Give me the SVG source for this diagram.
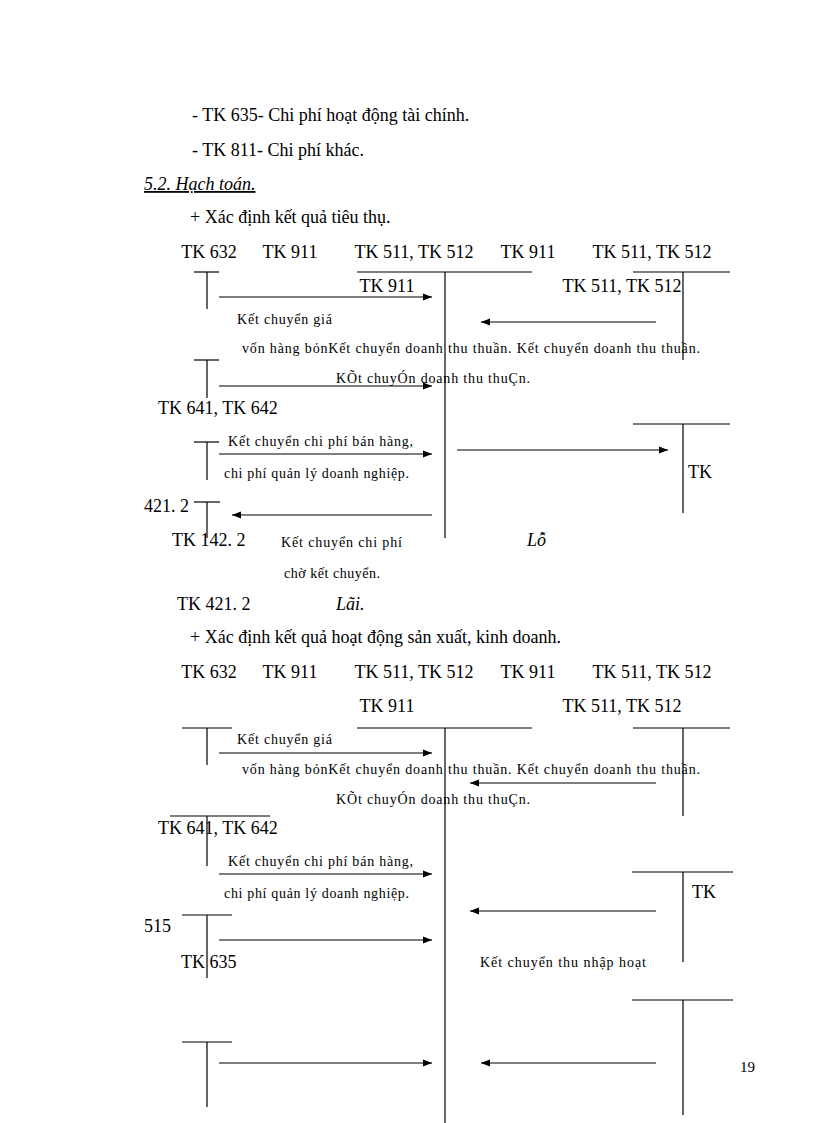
<svg xmlns="http://www.w3.org/2000/svg" width="816" height="1123" viewBox="0 0 816 1123">
<style>
text{font-family:"Liberation Serif","Times New Roman",serif;fill:#000}
.h{font-size:18px}
.s{font-size:14px}
.m{text-anchor:middle}
line{stroke:#000;stroke-width:1.2}
.a{marker-end:url(#ar)}
</style>
<defs><marker id="ar" viewBox="0 0 10 10" refX="10" refY="5" markerWidth="9" markerHeight="9" markerUnits="userSpaceOnUse" orient="auto"><path d="M0,1L10,5L0,9z" fill="#000"/></marker></defs>
<rect width="816" height="1123" fill="#fff"/>
<g id="intro">
<text class="h" x="192" y="121">- TK 635-  Chi phí hoạt động tài  chính.</text>
<text class="h" x="192" y="156">- TK 811-  Chi phí khác.</text>
<text class="h" x="144" y="190" font-style="italic" text-decoration="underline">5.2. Hạch toán.</text>
<text class="h" x="190" y="223">+ Xác định kết quả tiêu thụ.</text>
<text class="h" x="190" y="643">+ Xác định kết quả hoạt động sản xuất, kinh doanh.</text>
<text x="740" y="1072" font-size="15">19</text>
</g>
<g id="sec1-labels">
<text class="h m" x="209" y="258">TK 632</text>
<text class="h m" x="290" y="258">TK 911</text>
<text class="h m" x="414" y="258">TK 511, TK 512</text>
<text class="h m" x="528" y="258">TK 911</text>
<text class="h m" x="652" y="258">TK 511, TK 512</text>
<text class="h m" x="387" y="292">TK 911</text>
<text class="h m" x="622" y="292">TK 511, TK 512</text>
<text class="s" x="237" y="324" textLength="95">Kết chuyển  giá</text>
<text class="s" x="242" y="353" textLength="458">vốn hàng  bỏnKết chuyển  doanh  thu thuần.  Kết chuyển  doanh thu thuần.</text>
<text class="s" x="336" y="383" textLength="194">KÕt chuyÓn  doanh thu  thuÇn.</text>
<text class="h" x="158" y="414">TK 641, TK 642</text>
<text class="s" x="228" y="446" textLength="185">Kết chuyển  chi phí bán hàng,</text>
<text class="s" x="224" y="478" textLength="185">chi  phí  quản lý  doanh nghiệp.</text>
<text class="h" x="688" y="478">TK</text>
<text class="h" x="144" y="512">421. 2</text>
<text class="h" x="172" y="546">TK 142. 2</text>
<text class="s" x="281" y="547" textLength="121">Kết chuyển  chi  phí</text>
<text class="h" x="527" y="546" font-style="italic">Lỗ</text>
<text class="s" x="284" y="578" textLength="96">chờ kết chuyển.</text>
<text class="h" x="177" y="610">TK 421. 2</text>
<text class="h" x="336" y="610" font-style="italic">Lãi.</text>
</g>
<g id="sec2-labels">
<text class="h m" x="209" y="678">TK 632</text>
<text class="h m" x="290" y="678">TK 911</text>
<text class="h m" x="414" y="678">TK 511, TK 512</text>
<text class="h m" x="528" y="678">TK 911</text>
<text class="h m" x="652" y="678">TK 511, TK 512</text>
<text class="h m" x="387" y="712">TK 911</text>
<text class="h m" x="622" y="712">TK 511, TK 512</text>
<text class="s" x="237" y="744" textLength="95">Kết chuyển  giá</text>
<text class="s" x="242" y="774" textLength="458">vốn hàng  bỏnKết chuyển  doanh  thu thuần.  Kết chuyển  doanh thu thuần.</text>
<text class="s" x="336" y="804" textLength="194">KÕt chuyÓn  doanh thu  thuÇn.</text>
<text class="h" x="158" y="834">TK 641, TK 642</text>
<text class="s" x="228" y="866" textLength="185">Kết chuyển  chi phí bán hàng,</text>
<text class="s" x="224" y="898" textLength="185">chi  phí  quản lý  doanh nghiệp.</text>
<text class="h" x="692" y="898">TK</text>
<text class="h" x="144" y="932">515</text>
<text class="h" x="181" y="968">TK 635</text>
<text class="s" x="480" y="967" textLength="166">Kết chuyển  thu  nhập  hoạt</text>
</g>
<g id="t-accounts">
<line x1="194" y1="272" x2="219" y2="272"/><line x1="207" y1="272" x2="207" y2="309"/>
<line x1="357" y1="272" x2="532" y2="272"/><line x1="445" y1="272" x2="445" y2="538"/>
<line x1="633" y1="272" x2="730" y2="272"/><line x1="683" y1="272" x2="683" y2="360"/>
<line x1="194" y1="360" x2="219" y2="360"/><line x1="207" y1="360" x2="207" y2="398"/>
<line x1="194" y1="442" x2="219" y2="442"/><line x1="207" y1="442" x2="207" y2="480"/>
<line x1="633" y1="424" x2="730" y2="424"/><line x1="683" y1="424" x2="683" y2="513"/>
<line x1="194" y1="502" x2="220" y2="502"/><line x1="207" y1="502" x2="207" y2="538"/>
<line x1="182" y1="728" x2="232" y2="728"/><line x1="207" y1="728" x2="207" y2="765"/>
<line x1="357" y1="728" x2="532" y2="728"/><line x1="445" y1="728" x2="445" y2="1123"/>
<line x1="633" y1="728" x2="730" y2="728"/><line x1="683" y1="728" x2="683" y2="816"/>
<line x1="170" y1="816" x2="270" y2="816"/><line x1="207" y1="816" x2="207" y2="866"/>
<line x1="632" y1="872" x2="733" y2="872"/><line x1="683" y1="872" x2="683" y2="962"/>
<line x1="182" y1="915" x2="232" y2="915"/><line x1="207" y1="915" x2="207" y2="978"/>
<line x1="632" y1="1000" x2="733" y2="1000"/><line x1="683" y1="1000" x2="683" y2="1115"/>
<line x1="182" y1="1042" x2="232" y2="1042"/><line x1="207" y1="1042" x2="207" y2="1107"/>
</g>
<g id="connectors">
<line class="a" x1="219" y1="297" x2="432" y2="297"/>
<line class="a" x1="656" y1="322" x2="481" y2="322"/>
<line class="a" x1="219" y1="386" x2="432" y2="386"/>
<line class="a" x1="219" y1="454" x2="432" y2="454"/>
<line class="a" x1="457" y1="450" x2="668" y2="450"/>
<line class="a" x1="432" y1="515" x2="232" y2="515"/>
<line class="a" x1="219" y1="753" x2="432" y2="753"/>
<line class="a" x1="656" y1="783" x2="470" y2="783"/>
<line class="a" x1="219" y1="874" x2="432" y2="874"/>
<line class="a" x1="656" y1="911" x2="470" y2="911"/>
<line class="a" x1="219" y1="940" x2="432" y2="940"/>
<line class="a" x1="219" y1="1063" x2="432" y2="1063"/>
<line class="a" x1="656" y1="1063" x2="481" y2="1063"/>
</g>
</svg>
